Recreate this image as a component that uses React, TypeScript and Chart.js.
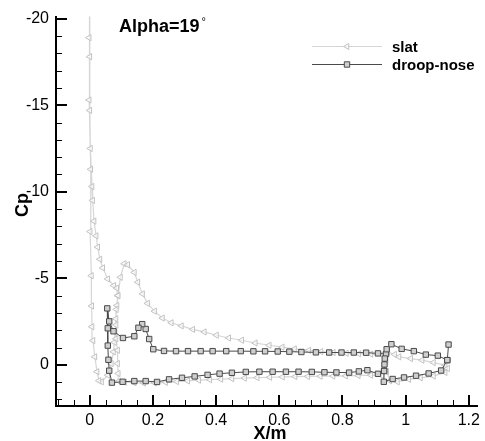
import React, { useEffect, useRef } from 'react';
import { Chart, registerables } from 'chart.js';

Chart.register(...registerables);

// ---- data ----
const seriesNames = ['slat', 'droop-nose'];

// slat configuration: slat element | main element | flap (null = break between elements)
const slatX = [
  0.0, 0.0, 0.0, 0.002, 0.007, 0.009, 0.0135, 0.02, 0.025, 0.032, 0.041, 0.057, 0.076, 0.085,
  0.088, 0.086, 0.083, 0.08, 0.078, 0.075, 0.068, 0.057, 0.037, 0.029, 0.023, 0.016, 0.01, 0.007,
  0.006, 0.005, 0.001, 0.003, -0.002, -0.002, 0.0,
  null,
  0.925, 0.89, 0.85, 0.81, 0.77, 0.73, 0.69, 0.65, 0.61, 0.57, 0.53, 0.49, 0.45, 0.415, 0.38,
  0.345, 0.31, 0.275, 0.24, 0.205, 0.17, 0.14, 0.11, 0.092, 0.09, 0.088, 0.088, 0.083, 0.083,
  0.084, 0.09, 0.097, 0.109, 0.12, 0.141, 0.152, 0.167, 0.183, 0.205, 0.23, 0.258, 0.29, 0.326,
  0.3625, 0.401, 0.44, 0.481, 0.524, 0.568, 0.609, 0.648, 0.693, 0.732, 0.771, 0.8125, 0.852,
  0.89, 0.925,
  null,
  0.943, 0.965, 0.979, 1.016, 1.052, 1.088, 1.125, 1.133, 1.125, 1.088, 1.047, 1.01, 0.974, 0.95,
  0.94, 0.938, 0.943,
];
const slatCp = [
  -21.0, -17.8, -14.7, -12.5, -10.3, -9.5, -8.3, -7.45, -6.8, -6.1, -5.6, -4.96, -4.58, -4.43,
  -4.0, -3.43, -2.66, -1.9, -1.3, -0.75, -0.07, 0.6, 0.98, 0.92, 0.4, -0.46, -1.4, -2.2,
  -3.4, -5.15, -7.7, -11.3, -15.3, -18.9, -21.0,
  null,
  0.62, 0.6, 0.62, 0.64, 0.65, 0.66, 0.67, 0.68, 0.7, 0.72, 0.74, 0.77, 0.8, 0.83, 0.86,
  0.89, 0.93, 0.97, 1.01, 1.04, 1.05, 1.03, 1.0, 0.95, 0.5, -0.07, -0.84, -1.5, -2.3,
  -3.2, -4.0, -5.06, -5.84, -5.78, -5.34, -4.77, -4.1, -3.55, -3.1, -2.7, -2.43, -2.25, -2.05,
  -1.9, -1.71, -1.55, -1.42, -1.26, -1.13, -1.02, -0.92, -0.83, -0.76, -0.71, -0.67, -0.64,
  -0.62, -0.58,
  null,
  -0.75, -0.6, -0.46, -0.36, -0.27, -0.13, 0.02, 0.21, 0.44, 0.65, 0.75, 0.84, 0.98, 0.92,
  0.4, -0.2, -0.75,
];

// droop-nose configuration: main element | flap
const droopX = [
  0.938, 0.9125, 0.875, 0.836, 0.797, 0.758, 0.716, 0.67, 0.632, 0.595, 0.555, 0.518, 0.478,
  0.432, 0.389, 0.351, 0.311, 0.273, 0.235, 0.201, 0.188, 0.177, 0.166, 0.154, 0.141, 0.105,
  0.075, 0.0615, 0.0553, 0.057, 0.057, 0.059, 0.0615, 0.07, 0.104, 0.141, 0.177, 0.213, 0.251,
  0.292, 0.332, 0.373, 0.411, 0.45, 0.494, 0.537, 0.579, 0.621, 0.661, 0.703, 0.743, 0.781,
  0.821, 0.852, 0.879, 0.9125, 0.932,
  null,
  1.136, 1.132, 1.1125, 1.073, 1.033, 0.995, 0.959, 0.931, 0.932, 0.933, 0.934, 0.94, 0.955,
  0.9875, 1.026, 1.064, 1.102, 1.132,
];
const droopCp = [
  -0.62, -0.66, -0.7, -0.71, -0.71, -0.71, -0.72, -0.74, -0.76, -0.77, -0.78, -0.78, -0.79,
  -0.79, -0.79, -0.79, -0.79, -0.79, -0.8, -0.9, -1.49, -2.07, -2.35, -2.14, -1.65, -1.55,
  -1.94, -2.51, -3.26, -2.11, -1.11, -0.29, 0.34, 1.03, 0.98, 0.94, 0.94, 0.99, 0.84,
  0.75, 0.67, 0.58, 0.51, 0.46, 0.41, 0.4, 0.4, 0.4, 0.4, 0.41, 0.43, 0.44,
  0.45, 0.38, 0.31, 0.52, 0.34,
  null,
  -1.17, -0.27, 0.33, 0.5, 0.63, 0.73, 0.82, 0.98, 0.36, -0.02, -0.36, -0.9, -1.19,
  -0.92, -0.79, -0.59, -0.53, -0.27,
];

const xTickValues = [0, 0.2, 0.4, 0.6, 0.8, 1, 1.2];
const xTickLabels = ['0', '0.2', '0.4', '0.6', '0.8', '1', '1.2'];
const yTickValues = [-20, -15, -10, -5, 0];
const yTickLabels = ['-20', '-15', '-10', '-5', '0'];
const xTitle = 'X/m';
const yTitle = 'Cp';
const annotationText = 'Alpha=19';
const annotationSup = '°';

const FONT = "'Liberation Sans', Arial, Helvetica, sans-serif";

const SLAT_LINE = '#d6d6d6';
const SLAT_MARK = '#c2c2c2';
const DROOP_LINE = '#4a4a4a';
const DROOP_FILL = '#cfcfcf';

function drawTriLeft(ctx: CanvasRenderingContext2D, x: number, y: number, r: number) {
  ctx.beginPath();
  ctx.moveTo(x - r, y);
  ctx.lineTo(x + r * 0.5, y - r * 0.866);
  ctx.lineTo(x + r * 0.5, y + r * 0.866);
  ctx.closePath();
  ctx.fillStyle = 'rgba(255,255,255,0.6)';
  ctx.fill();
  ctx.strokeStyle = SLAT_MARK;
  ctx.lineWidth = 1;
  ctx.stroke();
}

function drawSquare(ctx: CanvasRenderingContext2D, x: number, y: number, h: number) {
  ctx.beginPath();
  ctx.rect(x - h, y - h, 2 * h, 2 * h);
  ctx.fillStyle = DROOP_FILL;
  ctx.fill();
  ctx.strokeStyle = DROOP_LINE;
  ctx.lineWidth = 1;
  ctx.stroke();
}

const decorPlugin = {
  id: 'decor',
  afterDraw(chart: any) {
    const ctx: CanvasRenderingContext2D = chart.ctx;
    const xs = chart.scales.x;
    const ys = chart.scales.y;
    const { left, bottom } = chart.chartArea;
    ctx.save();
    ctx.strokeStyle = '#000';
    // inward ticks on x axis (major 0.2, minor 0.05)
    for (let k = -2; k <= 24; k++) {
      const major = k % 4 === 0;
      const px = xs.getPixelForValue(k * 0.05);
      ctx.lineWidth = major ? 2 : 1;
      const xx = major ? Math.round(px) : Math.round(px) + 0.5;
      ctx.beginPath();
      ctx.moveTo(xx, bottom);
      ctx.lineTo(xx, bottom - (major ? 11 : 6));
      ctx.stroke();
    }
    // inward ticks on y axis (major 5, minor 1)
    for (let k = -20; k <= 2; k++) {
      const major = k % 5 === 0;
      const py = ys.getPixelForValue(k);
      ctx.lineWidth = major ? 2 : 1;
      const yy = major ? Math.round(py) : Math.round(py) + 0.5;
      ctx.beginPath();
      ctx.moveTo(left, yy);
      ctx.lineTo(left + (major ? 11 : 6), yy);
      ctx.stroke();
    }

    // axis titles
    ctx.fillStyle = '#000';
    ctx.font = `bold 18px ${FONT}`;
    ctx.textAlign = 'center';
    ctx.textBaseline = 'alphabetic';
    ctx.fillText(xTitle, 270, 439);
    ctx.save();
    ctx.translate(28, 205);
    ctx.rotate(-Math.PI / 2);
    ctx.fillText(yTitle, 0, 0);
    ctx.restore();

    // annotation
    ctx.textAlign = 'left';
    ctx.font = `bold 18px ${FONT}`;
    ctx.fillText(annotationText, 119, 32);
    const w = ctx.measureText(annotationText).width;
    ctx.font = `11px ${FONT}`;
    ctx.fillText(annotationSup, 119 + w + 2, 25);

    // legend
    const rows = [
      { y: 46, name: seriesNames[0], kind: 'slat' },
      { y: 64, name: seriesNames[1], kind: 'droop' },
    ];
    for (const r of rows) {
      ctx.beginPath();
      ctx.moveTo(312, r.y + 0.5);
      ctx.lineTo(382, r.y + 0.5);
      ctx.strokeStyle = r.kind === 'slat' ? SLAT_LINE : DROOP_LINE;
      ctx.lineWidth = 1;
      ctx.stroke();
      if (r.kind === 'slat') drawTriLeft(ctx, 347, r.y + 0.5, 3.5);
      else drawSquare(ctx, 347, r.y + 0.5, 2.7);
      ctx.fillStyle = '#000';
      ctx.font = `bold 15px ${FONT}`;
      ctx.textAlign = 'left';
      ctx.fillText(r.name, 392, r.y + 5.5);
    }
    ctx.restore();
  },
};

export default function App() {
  const ref = useRef<HTMLCanvasElement>(null);
  useEffect(() => {
    document.body.style.margin = '0';
    const canvas = ref.current;
    if (!canvas) return;
    const slatData = slatX.map((x, i) => ({ x, y: slatCp[i] }));
    const droopData = droopX.map((x, i) => ({ x, y: droopCp[i] }));
    const chart = new Chart(canvas, {
      type: 'scatter',
      data: {
        datasets: [
          {
            label: seriesNames[1],
            data: droopData as any,
            showLine: true,
            spanGaps: false,
            borderColor: DROOP_LINE,
            borderWidth: 1,
            pointStyle: 'rect',
            pointRadius: 3.8,
            pointBorderWidth: 1,
            pointBorderColor: DROOP_LINE,
            pointBackgroundColor: DROOP_FILL,
            tension: 0,
            order: 0,
          },
          {
            label: seriesNames[0],
            data: slatData as any,
            showLine: true,
            spanGaps: false,
            borderColor: SLAT_LINE,
            borderWidth: 1.2,
            pointStyle: 'triangle',
            pointRotation: -90,
            pointRadius: 3.6,
            pointBorderWidth: 1,
            pointBorderColor: SLAT_MARK,
            pointBackgroundColor: 'rgba(255,255,255,0.6)',
            tension: 0,
            order: 1,
          },
        ],
      },
      options: {
        animation: false,
        responsive: false,
        maintainAspectRatio: false,
        devicePixelRatio: 1,
        layout: { padding: { top: 13, right: 2, left: 0, bottom: 0 } },
        plugins: {
          legend: { display: false },
          tooltip: { enabled: false },
          title: { display: false },
        },
        scales: {
          x: {
            type: 'linear',
            min: -0.107,
            max: 1.228,
            grid: { display: false, drawTicks: false },
            border: { display: true, color: '#000', width: 2 },
            afterBuildTicks: (scale: any) => {
              scale.ticks = xTickValues.map((v) => ({ value: v }));
            },
            afterFit: (scale: any) => {
              scale.height = 35;
            },
            ticks: {
              padding: 5,
              color: '#000',
              font: { family: FONT, size: 16 },
              maxRotation: 0,
              autoSkip: false,
              callback: (_v: any, i: number) => xTickLabels[i],
            },
          },
          y: {
            type: 'linear',
            reverse: true,
            min: -20.12,
            max: 2.38,
            grid: { display: false, drawTicks: false },
            border: { display: true, color: '#000', width: 2 },
            afterBuildTicks: (scale: any) => {
              scale.ticks = yTickValues.map((v) => ({ value: v }));
            },
            afterFit: (scale: any) => {
              scale.width = 56;
            },
            ticks: {
              padding: 7,
              color: '#000',
              font: { family: FONT, size: 16 },
              autoSkip: false,
              callback: (_v: any, i: number) => yTickLabels[i],
            },
          },
        },
      },
      plugins: [decorPlugin],
    });
    return () => chart.destroy();
  }, []);
  return (
    <canvas
      ref={ref}
      width={485}
      height={441}
      style={{ display: 'block', width: '485px', height: '441px' }}
    />
  );
}
